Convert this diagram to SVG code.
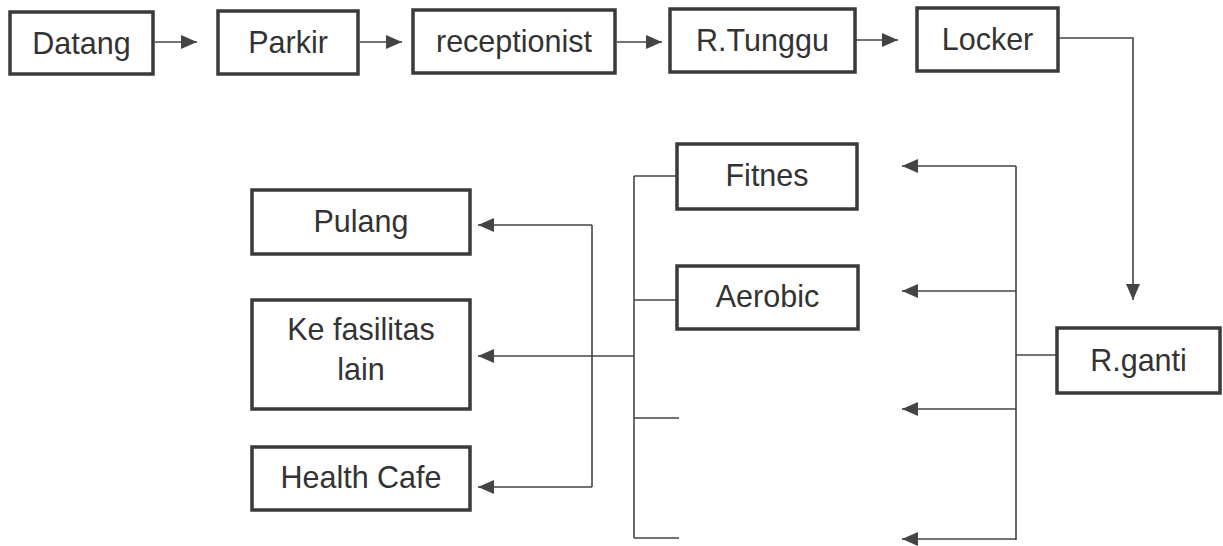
<svg xmlns="http://www.w3.org/2000/svg" width="1223" height="546" viewBox="0 0 1223 546">
<style>
.box{fill:#fff;stroke:#3a3a3a;stroke-width:3.5}
.lbl{font-family:"Liberation Sans",Arial,sans-serif;font-size:30.5px;fill:#333;text-anchor:middle}
.ln{fill:none;stroke:#444;stroke-width:1.6}
</style>
<defs>
<marker id="ah" markerUnits="userSpaceOnUse" markerWidth="17" markerHeight="14" refX="16" refY="7" orient="auto">
<path d="M0,0 L16,7 L0,14 Z" fill="#444"/>
</marker>
</defs>
<rect width="1223" height="546" fill="#fff"/>
<g id="connectors">
<line class="ln" x1="155" y1="42" x2="197" y2="42" marker-end="url(#ah)"/>
<line class="ln" x1="360" y1="42" x2="402" y2="42" marker-end="url(#ah)"/>
<line class="ln" x1="617" y1="42" x2="662" y2="42" marker-end="url(#ah)"/>
<line class="ln" x1="856" y1="40" x2="898" y2="40" marker-end="url(#ah)"/>
<polyline class="ln" points="1058,38 1133,38 1133,300" marker-end="url(#ah)"/>
<line class="ln" x1="1016" y1="166" x2="1016" y2="540"/>
<line class="ln" x1="1016" y1="355" x2="1057" y2="355"/>
<line class="ln" x1="1016" y1="166" x2="902" y2="166" marker-end="url(#ah)"/>
<line class="ln" x1="1016" y1="291" x2="902" y2="291" marker-end="url(#ah)"/>
<line class="ln" x1="1016" y1="409" x2="902" y2="409" marker-end="url(#ah)"/>
<line class="ln" x1="1016" y1="539" x2="902" y2="539" marker-end="url(#ah)"/>
<line class="ln" x1="634" y1="176" x2="634" y2="538"/>
<line class="ln" x1="634" y1="176" x2="677" y2="176"/>
<line class="ln" x1="634" y1="300" x2="677" y2="300"/>
<line class="ln" x1="634" y1="418" x2="679" y2="418"/>
<line class="ln" x1="634" y1="538" x2="679" y2="538"/>
<line class="ln" x1="634" y1="356" x2="478" y2="356" marker-end="url(#ah)"/>
<line class="ln" x1="592" y1="225" x2="592" y2="487"/>
<line class="ln" x1="592" y1="225" x2="478" y2="225" marker-end="url(#ah)"/>
<line class="ln" x1="592" y1="487" x2="478" y2="487" marker-end="url(#ah)"/>
</g>
<g id="datang"><rect class="box" x="10" y="12" width="143" height="62"/><text class="lbl" x="81.5" y="54">Datang</text></g>
<g id="parkir"><rect class="box" x="218" y="11" width="140" height="63"/><text class="lbl" x="288" y="53">Parkir</text></g>
<g id="receptionist"><rect class="box" x="413" y="10" width="202" height="63"/><text class="lbl" x="514" y="52">receptionist</text></g>
<g id="rtunggu"><rect class="box" x="670" y="9" width="185" height="63"/><text class="lbl" x="762.5" y="51">R.Tunggu</text></g>
<g id="locker"><rect class="box" x="917" y="8" width="141" height="63"/><text class="lbl" x="987.5" y="50">Locker</text></g>
<g id="rganti"><rect class="box" x="1057" y="328" width="163" height="65"/><text class="lbl" x="1138.5" y="371">R.ganti</text></g>
<g id="fitnes"><rect class="box" x="677" y="144" width="180" height="65"/><text class="lbl" x="767" y="186">Fitnes</text></g>
<g id="aerobic"><rect class="box" x="677" y="266" width="181" height="63"/><text class="lbl" x="767.5" y="307">Aerobic</text></g>
<g id="pulang"><rect class="box" x="252" y="190" width="218" height="64"/><text class="lbl" x="361" y="232">Pulang</text></g>
<g id="fasilitas"><rect class="box" x="252" y="300" width="218" height="109"/><text class="lbl" x="361" y="340">Ke fasilitas</text><text class="lbl" x="361" y="380">lain</text></g>
<g id="healthcafe"><rect class="box" x="252" y="447" width="218" height="63"/><text class="lbl" x="361" y="488">Health Cafe</text></g>
</svg>
